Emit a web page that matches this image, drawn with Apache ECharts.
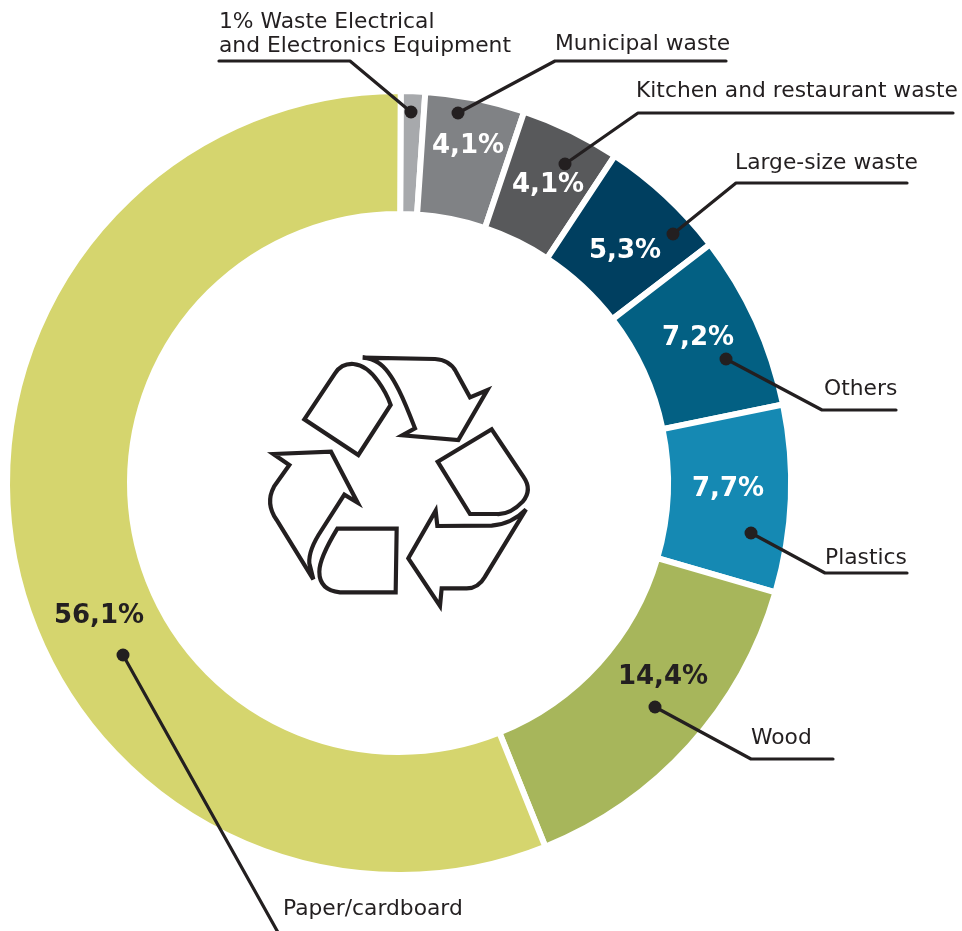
<!DOCTYPE html>
<html>
<head>
<meta charset="utf-8">
<script src="https://cdn.jsdelivr.net/npm/echarts@6/dist/echarts.min.js"></script>
<style>
  html, body { margin: 0; padding: 0; background: #fff; }
  #chart { width: 962px; height: 931px; }
</style>
</head>
<body>
<div id="chart"></div>
<script>
// Composition of waste, clockwise from twelve o'clock
const categories = ['Waste Electrical and Electronics Equipment', 'Municipal waste', 'Kitchen and restaurant waste', 'Large-size waste', 'Others', 'Plastics', 'Wood', 'Paper/cardboard'];
const shares = [1, 4.1, 4.1, 5.3, 7.2, 7.7, 14.4, 56.1];
const sliceColors = ['#a7a9ac', '#808285', '#58595b', '#003f60', '#036083', '#1589b3', '#a7b65b', '#d5d56e'];
const valueColors = ['#ffffff', '#ffffff', '#ffffff', '#ffffff', '#ffffff', '#ffffff', '#231f20', '#231f20'];

// Caption lines per slice
const captions = [['1% Waste Electrical', 'and Electronics Equipment'], ['Municipal waste'], ['Kitchen and restaurant waste'], ['Large-size waste'], ['Others'], ['Plastics'], ['Wood'], ['Paper/cardboard']];

// Placement of the value labels inside the ring
const valueLabelPos = [null, [468, 146], [548, 185], [625, 251], [698, 338], [728, 489], [663, 677], [99, 616]];

// Leader lines: dot, elbow, end
const leaderPaths = [
  [[411, 112], [350, 61], [219, 61]],
  [[458, 113], [555, 61], [726, 61]],
  [[565, 164], [638, 113], [953, 113]],
  [[673, 234], [736, 183], [907, 183]],
  [[726, 359], [822, 410], [896, 410]],
  [[751, 533], [825, 573], [907, 573]],
  [[655, 707], [751, 759], [833, 759]],
  [[123, 655], [280, 936]]
];
const captionPos = [[219, 22], [555, 44], [636, 91], [735, 163], [824, 389], [825, 558], [751, 738], [283, 909]];

// Recycling symbol outlines, drawn at three times their final size
const recycleOutlines = [
  'M338 53 L555 57 Q600 60 618 95 L660 172 L712 150 L625 300 L457 286 L495 265 C470 200 430 95 385 68 C370 58 350 54 338 53 Z',
  'M163 238 L255 100 Q275 70 310 72 Q350 75 385 125 Q410 160 422 195 L325 345 Z',
  'M563 365 L725 268 L820 410 Q848 450 818 485 Q780 525 740 522 L660 522 Z',
  'M475 655 L557 512 L562 558 L725 557 Q785 552 828 508 L705 710 Q685 745 650 745 L575 745 L570 798 Z',
  'M262 566 L440 566 L437 757 L270 757 Q208 750 208 695 Q208 655 262 566 Z',
  'M70 342 L243 335 L323 488 L283 464 L215 570 Q175 630 178 670 L190 718 L80 540 Q45 490 72 440 L118 375 Z'
];

const INK = '#231f20';
const FONT = '"DejaVu Sans", Verdana, sans-serif';

recycleOutlines.forEach((d, i) => {
  echarts.graphic.registerShape('recycle' + i, echarts.graphic.extendPath(d, {}));
});

const elements = [];

recycleOutlines.forEach((d, i) => {
  elements.push({
    type: 'recycle' + i,
    x: 250, y: 340, scaleX: 1 / 3, scaleY: 1 / 3,
    z: 10,
    style: { fill: 'none', stroke: INK, lineWidth: 12.5, lineJoin: 'miter', miterLimit: 5 }
  });
});

leaderPaths.forEach(points => {
  elements.push({
    type: 'polyline', z: 20,
    shape: { points },
    style: { fill: 'none', stroke: INK, lineWidth: 3.2, lineJoin: 'round', lineCap: 'round' }
  });
  elements.push({
    type: 'circle', z: 21,
    shape: { cx: points[0][0], cy: points[0][1], r: 6.5 },
    style: { fill: INK }
  });
});

captions.forEach((lines, i) => {
  lines.forEach((line, k) => {
    elements.push({
      type: 'text', z: 22,
      x: captionPos[i][0], y: captionPos[i][1] + k * 24,
      style: { text: line, fill: INK, font: '21.8px ' + FONT, verticalAlign: 'middle' }
    });
  });
});

const chart = echarts.init(document.getElementById('chart'), null, { renderer: 'canvas' });
chart.setOption({
  animation: false,
  backgroundColor: '#ffffff',
  graphic: { elements },
  series: [{
    type: 'pie',
    center: [399, 483],
    radius: [269, 392],
    startAngle: 89.75,
    clockwise: true,
    silent: true,
    avoidLabelOverlap: false,
    itemStyle: { borderColor: '#ffffff', borderWidth: 6 },
    labelLine: { show: false },
    label: { position: 'inside', fontFamily: FONT, fontWeight: 'bold', fontSize: 26 },
    labelLayout: params => {
      const p = valueLabelPos[params.dataIndex];
      return p ? { x: p[0], y: p[1], align: 'center', verticalAlign: 'middle' } : {};
    },
    data: categories.map((name, i) => ({
      name,
      value: shares[i],
      itemStyle: { color: sliceColors[i] },
      label: valueLabelPos[i]
        ? { show: true, color: valueColors[i], formatter: String(shares[i]).replace('.', ',') + '%' }
        : { show: false }
    }))
  }]
});
</script>
</body>
</html>
